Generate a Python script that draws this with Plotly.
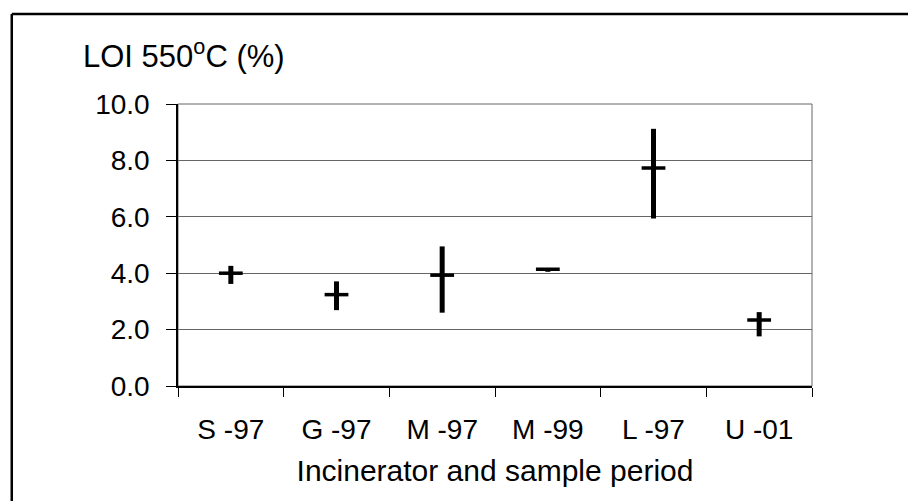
import plotly.graph_objects as go

# ---- data ----
categories = ["S -97", "G -97", "M -97", "M -99", "L -97", "U -01"]
mean_vals = [4.00, 3.24, 3.93, 4.14, 7.73, 2.34]
min_vals = [3.62, 2.69, 2.60, 4.05, 5.94, 1.76]
max_vals = [4.26, 3.71, 4.95, 4.14, 9.12, 2.62]
y_tick_vals = [0, 2, 4, 6, 8, 10]

err_plus = [hi - m for hi, m in zip(max_vals, mean_vals)]
err_minus = [m - lo for m, lo in zip(mean_vals, min_vals)]

FONT = "Liberation Sans, Arial, sans-serif"

fig = go.Figure()
fig.add_trace(go.Scatter(
    x=categories, y=mean_vals, mode="markers",
    marker=dict(symbol="line-ew", size=17, color="black",
                line=dict(color="black", width=3.5)),
    error_y=dict(type="data", symmetric=False, array=err_plus,
                 arrayminus=err_minus, thickness=5, width=0, color="black"),
    showlegend=False, hoverinfo="skip",
))

L, R, T, B = 177.5, 95.5, 104, 115
W, H = 908, 501
pw, ph = W - L - R, H - T - B

def px_x(p):
    return (p - L) / pw

def px_y(p):
    return (H - B - p) / ph

fig.update_layout(
    width=W, height=H,
    margin=dict(l=L, r=R, t=T, b=B, pad=0),
    paper_bgcolor="white", plot_bgcolor="white",
    font=dict(family=FONT, size=28, color="black"),
    xaxis=dict(
        type="category", tickson="boundaries", ticks="outside", ticklen=9,
        tickwidth=1, tickcolor="black", showgrid=False,
        showline=True, linecolor="black", linewidth=1.5,
        tickfont=dict(size=28), ticklabelstandoff=18,
        range=[-0.5, 5.5],
        title=dict(text="Incinerator and sample period", font=dict(size=30),
                   standoff=16),
    ),
    yaxis=dict(
        range=[0, 10], tickvals=y_tick_vals, tickformat=".1f",
        ticks="outside", ticklen=10, tickwidth=1, tickcolor="black",
        showgrid=True, gridcolor="#666666", gridwidth=1,
        showline=True, linecolor="black", linewidth=1.5,
        tickfont=dict(size=28), ticklabelstandoff=11, zeroline=False,
    ),
    annotations=[dict(
        text="LOI 550<sup>o</sup>C (%)", xref="paper", yref="paper",
        x=px_x(80), y=px_y(54), xanchor="left", yanchor="middle",
        showarrow=False, font=dict(size=31),
    )],
    shapes=[
        # plot area frame (grey)
        dict(type="rect", xref="paper", yref="paper", x0=0, x1=1, y0=0, y1=1,
             line=dict(color="#666666", width=1), layer="below"),
        # outer chart border (cropped)
        dict(type="line", xref="paper", yref="paper",
             x0=px_x(11), x1=px_x(11), y0=px_y(14), y1=px_y(520),
             line=dict(color="black", width=2.5)),
        dict(type="line", xref="paper", yref="paper",
             x0=px_x(11), x1=px_x(930), y0=px_y(14), y1=px_y(14),
             line=dict(color="black", width=2.5)),
    ],
)

fig.write_html("out.html")
